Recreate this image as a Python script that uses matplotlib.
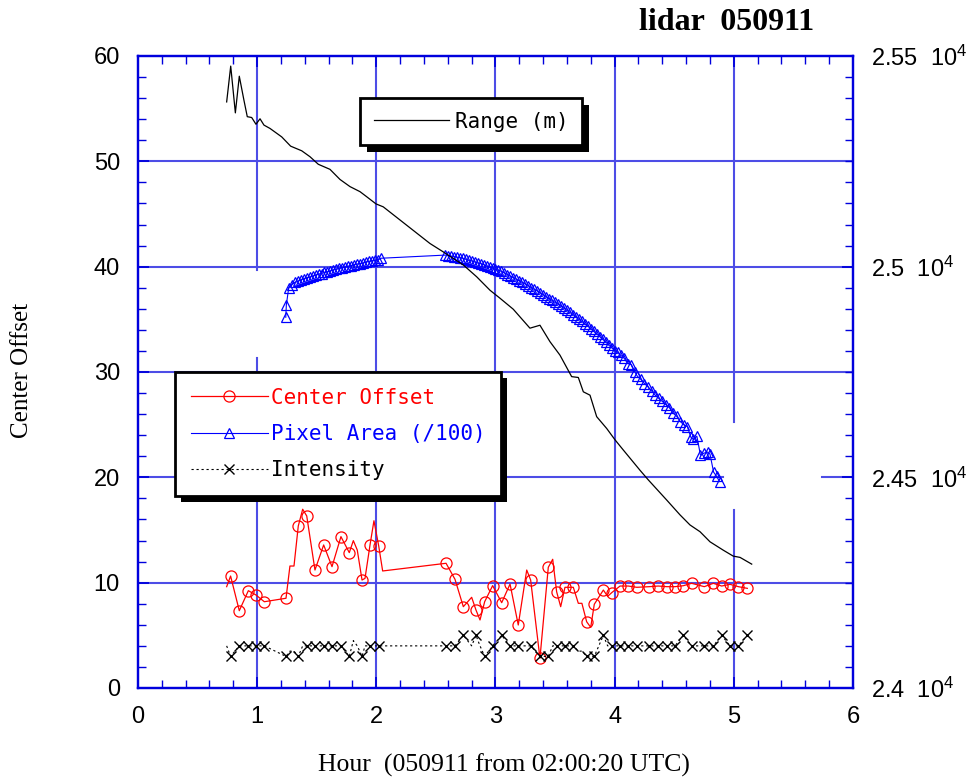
import matplotlib
matplotlib.use('Agg')
import matplotlib.pyplot as plt
from matplotlib.lines import Line2D
from matplotlib.patches import Rectangle
from matplotlib.ticker import MultipleLocator

plt.rcParams['font.family'] = ['Liberation Sans', 'DejaVu Sans']
plt.rcParams['mathtext.fontset'] = 'custom'
plt.rcParams['mathtext.rm'] = 'Liberation Sans'

# ---- data ----
# Range (m), right axis
range_hours = [0.744, 0.778, 0.817, 0.850, 0.889, 0.917, 0.954, 0.990, 1.024, 1.057,
               1.108, 1.206, 1.281, 1.374, 1.443, 1.513, 1.611, 1.695, 1.779, 1.863,
               1.919, 1.997, 2.058, 2.450, 2.562, 2.730, 2.842, 2.954, 3.038, 3.149,
               3.289, 3.373, 3.457, 3.541, 3.639, 3.695, 3.737, 3.793, 3.849, 3.933,
               4.003, 4.072, 4.212, 4.282, 4.437, 4.548, 4.632, 4.716, 4.800, 4.912,
               4.995, 5.052, 5.150]
range_m = [25391, 25476, 25365, 25452, 25395, 25356, 25354, 25338, 25351, 25336,
           25328, 25308, 25286, 25275, 25261, 25243, 25231, 25207, 25190, 25178,
           25166, 25149, 25142, 25055, 25035, 25004, 24976, 24944, 24925, 24899,
           24854, 24861, 24822, 24790, 24739, 24737, 24703, 24695, 24644, 24616,
           24589, 24565, 24517, 24494, 24446, 24411, 24387, 24371, 24347, 24327,
           24313, 24310, 24294]

# Pixel Area (/100), left axis
pa_hours = [1.240, 1.245, 1.265, 1.290, 1.315, 1.340, 1.365, 1.390, 1.415, 1.440,
            1.465, 1.490, 1.515, 1.540, 1.565, 1.590, 1.615, 1.640, 1.665, 1.690,
            1.715, 1.740, 1.765, 1.790, 1.815, 1.840, 1.865, 1.890, 1.915, 1.940,
            1.965, 1.990, 2.015, 2.040,
            2.580, 2.600, 2.625, 2.650, 2.675, 2.700, 2.725, 2.750, 2.775, 2.800,
            2.825, 2.850, 2.875, 2.900, 2.925, 2.950, 2.975, 3.000, 3.025, 3.050,
            3.075, 3.100, 3.125, 3.150, 3.175, 3.200, 3.225, 3.250, 3.275, 3.300,
            3.325, 3.350, 3.375, 3.400, 3.425, 3.450, 3.475, 3.500, 3.525, 3.550,
            3.575, 3.600, 3.625, 3.650, 3.675, 3.700, 3.725, 3.750, 3.775, 3.800,
            3.825, 3.850, 3.875, 3.900, 3.925, 3.950, 3.975, 4.000, 4.025, 4.050,
            4.080, 4.110, 4.140, 4.170, 4.190, 4.220, 4.250, 4.280, 4.310, 4.340,
            4.370, 4.400, 4.430, 4.460, 4.490, 4.520, 4.550, 4.580, 4.610, 4.640,
            4.660, 4.690, 4.720, 4.750, 4.780, 4.800, 4.830, 4.855, 4.880]
pa_values = [35.2, 36.4, 38.0, 38.3, 38.5, 38.6, 38.75, 38.85, 38.95, 39.0,
             39.1, 39.2, 39.3, 39.35, 39.45, 39.5, 39.6, 39.7, 39.75, 39.85,
             39.9, 39.95, 40.05, 40.1, 40.2, 40.25, 40.3, 40.35, 40.45, 40.5,
             40.55, 40.6, 40.65, 40.8,
             41.1, 41.05, 41.0, 40.95, 40.9, 40.85, 40.8, 40.7, 40.6, 40.55,
             40.45, 40.35, 40.3, 40.2, 40.05, 39.95, 39.85, 39.75, 39.65, 39.55,
             39.4, 39.25, 39.1, 38.95, 38.8, 38.65, 38.5, 38.35, 38.2, 38.0,
             37.85, 37.7, 37.5, 37.35, 37.15, 36.95, 36.8, 36.6, 36.45, 36.25,
             36.05, 35.85, 35.65, 35.45, 35.2, 35.0, 34.8, 34.55, 34.35, 34.1,
             33.85, 33.6, 33.35, 33.1, 32.85, 32.55, 32.3, 32.0, 31.9, 31.6,
             31.3, 30.8, 30.7, 30.0, 29.6, 29.3, 28.9, 28.6, 28.2, 27.8,
             27.5, 27.2, 26.9, 26.6, 26.1, 25.8, 25.3, 25.0, 24.8, 23.8,
             23.6, 23.9, 22.1, 22.3, 22.4, 22.2, 20.5, 20.1, 19.6]

# Center Offset and Intensity share the same time stamps
co_hours = [0.744, 0.777, 0.850, 0.926, 0.990, 1.060, 1.242, 1.275, 1.309, 1.345,
            1.382, 1.416, 1.485, 1.558, 1.628, 1.703, 1.773, 1.807, 1.840, 1.880,
            1.905, 1.947, 1.980, 2.020, 2.053, 2.585, 2.660, 2.730, 2.800, 2.836,
            2.870, 2.909, 2.976, 3.052, 3.122, 3.191, 3.262, 3.295, 3.373, 3.443,
            3.480, 3.513, 3.547, 3.583, 3.653, 3.695, 3.725, 3.765, 3.799, 3.829,
            3.905, 3.941, 3.975, 4.045, 4.115, 4.185, 4.291, 4.366, 4.437, 4.506,
            4.576, 4.646, 4.752, 4.828, 4.898, 4.968, 5.038, 5.113]
center_offset = [9.62, 10.63, 7.34, 9.24, 8.83, 8.19, 8.52, 11.58, 11.58, 15.38,
                 16.97, 16.33, 11.20, 13.58, 11.52, 14.37, 12.85, 13.99, 13.10, 10.25,
                 10.41, 13.58, 15.88, 13.48, 11.11, 11.84, 10.32, 7.72, 8.61, 7.41,
                 6.46, 8.19, 9.72, 8.10, 9.87, 5.98, 11.20, 10.25, 2.82, 11.46,
                 12.22, 9.14, 7.72, 9.56, 9.56, 8.04, 8.04, 6.29, 5.76, 7.95,
                 9.30, 8.70, 9.05, 9.68, 9.68, 9.56, 9.62, 9.68, 9.62, 9.62,
                 9.71, 9.94, 9.62, 9.94, 9.68, 9.84, 9.62, 9.46]
intensity = [4, 3, 4, 4, 4, 4, 3, 3.5, 3.5, 3,
             4, 4, 4, 4, 4, 4, 3, 4.5, 4, 3,
             4, 4, 4, 4, 4, 4, 4, 5, 4, 5,
             4, 3, 4, 5, 4, 4, 4, 4, 3, 3,
             4, 4, 4, 4, 4, 3.5, 3.5, 3, 3, 3,
             5, 4, 4, 4, 4, 4, 4, 4, 4, 4,
             5, 4, 4, 4, 5, 4, 4, 5]
# 1 = sample drawn with a marker, 0 = line vertex only
co_marked = [0, 1, 1, 1, 1, 1, 1, 0, 0, 1,
             0, 1, 1, 1, 1, 1, 1, 0, 0, 1,
             0, 1, 0, 1, 0, 1, 1, 1, 0, 1,
             0, 1, 1, 1, 1, 1, 0, 1, 1, 1,
             0, 1, 0, 1, 1, 0, 0, 1, 0, 1,
             1, 0, 1, 1, 1, 1, 1, 1, 1, 1,
             1, 1, 1, 1, 1, 1, 1, 1]

right_ticks = [24000, 24500, 25000, 25500]
right_labels = [r'2.4  $\mathregular{10^4}$', r'2.45  $\mathregular{10^4}$',
                r'2.5  $\mathregular{10^4}$', r'2.55  $\mathregular{10^4}$']

BLUE = '#0000dd'
GRID = '#4d4de6'
mono = {'family': 'DejaVu Sans Mono', 'size': 15}

fig = plt.figure(figsize=(9.7, 7.8), dpi=100)
ax = fig.add_axes([138 / 970, 92 / 780, 715 / 970, 632 / 780])
ax2 = ax.twinx()

ax.set_xlim(0, 6)
ax.set_ylim(0, 60)
ax2.set_ylim(24000, 25500)

# grid lines (with the gaps seen in the original)
gkw = dict(color=GRID, lw=1.5, zorder=0.5)
for yv in (10, 30, 40, 50):
    ax.axhline(yv, **gkw)
ax.axhline(20, xmin=0, xmax=0.818, **gkw)
ax.axhline(20, xmin=0.957, xmax=1, **gkw)
ax.axvline(1, ymin=0, ymax=0.522, **gkw)
ax.axvline(1, ymin=0.661, ymax=1, **gkw)
for xv in (2, 3, 4):
    ax.axvline(xv, **gkw)
ax.axvline(5, ymin=0, ymax=0.282, **gkw)
ax.axvline(5, ymin=0.421, ymax=1, **gkw)

# pixel area
ax.plot(pa_hours, pa_values, color='blue', lw=0.8, marker='^', ms=7,
        mfc='none', mec='blue', mew=0.9, zorder=3)

# center offset
ax.plot(co_hours, center_offset, color='red', lw=0.9, zorder=3)
mk_h = [h for h, m in zip(co_hours, co_marked) if m]
mk_c = [v for v, m in zip(center_offset, co_marked) if m]
mk_i = [v for v, m in zip(intensity, co_marked) if m]
ax.plot(mk_h, mk_c, ls='none', marker='o', ms=8, mfc='none', mec='red',
        mew=0.9, zorder=3)

# intensity
ax.plot(co_hours, intensity, color='black', lw=0.8, ls=(0, (2, 2.5)), zorder=3)
ax.plot(mk_h, mk_i, ls='none', marker='x', ms=7, mec='black', mew=1.0, zorder=3)

# range on right axis
ax2.plot(range_hours, range_m, color='black', lw=0.9)

# ticks and spines
ax.xaxis.set_major_locator(MultipleLocator(1))
ax.xaxis.set_minor_locator(MultipleLocator(0.2))
ax.yaxis.set_major_locator(MultipleLocator(10))
ax.yaxis.set_minor_locator(MultipleLocator(2))
ax.tick_params(which='both', direction='in', top=True, right=False,
               color=BLUE, labelsize=17, pad=13)
ax.tick_params(which='major', length=8, width=1.3)
ax.tick_params(which='minor', length=6, width=1.0)

ax2.set_yticks(right_ticks)
ax2.set_yticklabels(right_labels)
ax2.yaxis.set_minor_locator(MultipleLocator(50))
ax2.tick_params(which='both', direction='in', color=BLUE, labelsize=17, pad=13)
ax2.tick_params(which='major', length=8, width=1.3)
ax2.tick_params(which='minor', length=6, width=1.0)

for a in (ax, ax2):
    for sp in a.spines.values():
        sp.set_color(BLUE)
        sp.set_linewidth(1.6)

# text
fig.text(727 / 970, 1 - 22 / 780, 'lidar  050911', ha='center', va='center',
         family='Liberation Serif', weight='bold', size=23)
fig.text(22 / 970, 1 - 370 / 780, 'Center Offset', rotation=90, ha='center',
         va='center', family='Liberation Serif', size=18)
fig.text(504 / 970, 1 - 765 / 780, 'Hour  (050911 from 02:00:20 UTC)',
         ha='center', va='center', family='Liberation Serif', size=18.5)

# legends
handles = [
    Line2D([], [], color='red', lw=0.9, marker='o', ms=8, mfc='none', mew=0.9),
    Line2D([], [], color='blue', lw=0.8, marker='^', ms=7, mfc='none', mew=0.9),
    Line2D([], [], color='black', lw=0.8, ls=(0, (2, 2.5)), marker='x', ms=7, mew=1.0),
]
leg1 = ax.legend(handles, ['Center Offset', 'Pixel Area (/100)', 'Intensity'],
                 loc='upper left', bbox_to_anchor=(37 / 715, 316 / 632),
                 borderaxespad=0, prop=mono, labelcolor=['red', 'blue', 'black'],
                 numpoints=1, handlelength=3.7, handletextpad=0.15, borderpad=0.75,
                 labelspacing=0.78, fancybox=False, edgecolor='black', framealpha=1)
leg1.get_frame().set_linewidth(2)
leg1.set_zorder(10)

leg2 = ax2.legend([Line2D([], [], color='black', lw=0.9)], ['Range (m)'],
                  loc='upper left', bbox_to_anchor=(222 / 715, 590 / 632),
                  borderaxespad=0, prop=mono, handlelength=3.6, handletextpad=0.3,
                  borderpad=0.65, fancybox=False, edgecolor='black', framealpha=1)
leg2.get_frame().set_linewidth(2)
leg2.set_zorder(10)

# solid black drop shadows behind the legend boxes
fig.canvas.draw()
for leg, off in ((leg1, 6), (leg2, 7)):
    bb = leg.get_window_extent()
    shadow = Rectangle((bb.x0 + off, bb.y0 - off), bb.width, bb.height,
                       transform=None, facecolor='black', edgecolor='none',
                       zorder=9)
    leg.axes.add_artist(shadow)

fig.savefig('out.png', dpi=100)
